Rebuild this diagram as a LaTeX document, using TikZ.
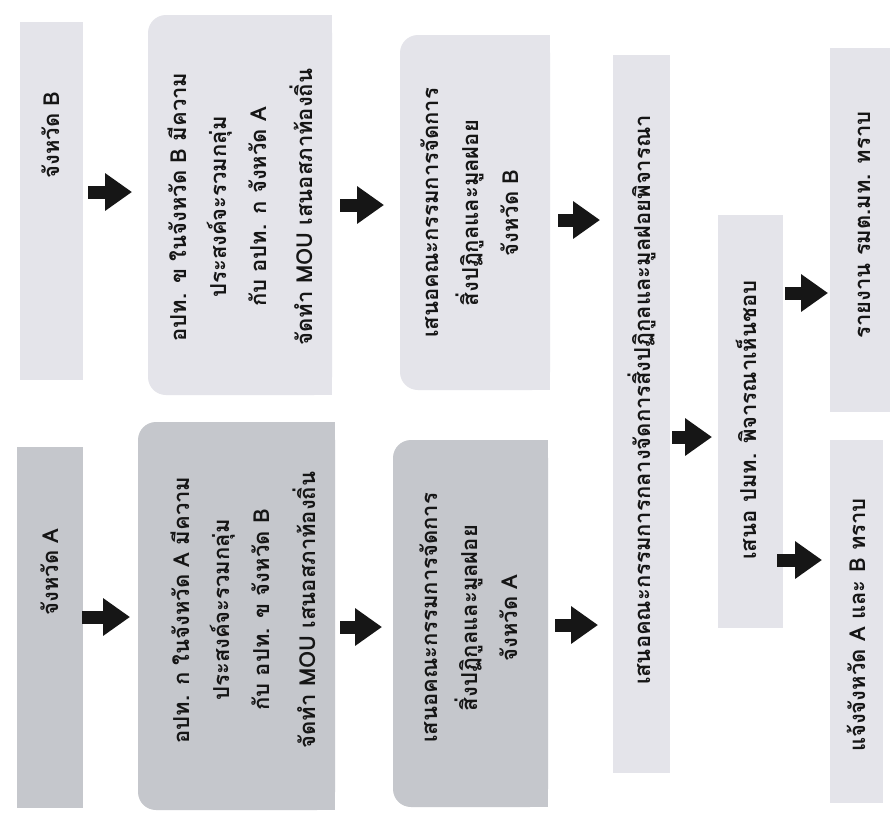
\documentclass[tikz,border=0pt]{standalone}
\usepackage{fontspec}
\usepackage{graphicx}
\newfontfamily\thaifont[Script=Thai]{Loma}
\usetikzlibrary{arrows.meta}
\definecolor{boxdark}{HTML}{C5C7CC}
\definecolor{boxlight}{HTML}{E4E4EA}
\definecolor{ink}{HTML}{161616}
\newcommand{\rtext}[1]{\rotatebox{90}{\begin{tabular}{@{}c@{}}#1\end{tabular}}}
\begin{document}
\begin{tikzpicture}[x=1pt,y=-1pt,
  box/.style={draw=none, inner sep=0pt, outer sep=0pt, anchor=north west},
  darkbox/.style={box, fill=boxdark},
  lightbox/.style={box, fill=boxlight},
  framebox/.style={box},
  txt/.style={inner sep=0pt, outer sep=0pt, font=\thaifont\bfseries\fontsize{22}{40}\selectfont, text=ink},
  flow/.style={draw=ink, line width=13pt, -{Triangle[width=36pt,length=27pt]}}]
\useasboundingbox (0,0) rectangle (890,820);
\fill[white] (0,0) rectangle (890,820);

% boxes
\node[darkbox, minimum width=66pt, minimum height=361pt] (bA) at (17,447) {};
\node[lightbox, minimum width=63pt, minimum height=358pt] (bB) at (20,22) {};
\node[framebox, minimum width=197pt, minimum height=388pt] (b2A) at (138,422) {};
\node[framebox, minimum width=184pt, minimum height=380pt] (b2B) at (148,15) {};
\node[framebox, minimum width=155pt, minimum height=367pt] (b3A) at (393,440) {};
\node[framebox, minimum width=150pt, minimum height=355pt] (b3B) at (400,35) {};
\node[lightbox, minimum width=57pt, minimum height=718pt] (b4) at (613,55) {};
\node[lightbox, minimum width=65pt, minimum height=413pt] (b5) at (718,215) {};
\node[lightbox, minimum width=60pt, minimum height=364pt] (b6) at (830,48) {};
\node[lightbox, minimum width=53pt, minimum height=363pt] (b7) at (830,440) {};

% boxes rounded on the left side
\foreach \b/\c in {b2A/boxdark, b2B/boxlight, b3A/boxdark, b3B/boxlight}{
  \fill[\c, rounded corners=18pt] (\b.north west) rectangle (\b.south east);
  \fill[\c] ([xshift=30pt]\b.north west) rectangle (\b.south east);
}

% texts
\node[txt] (tA) at (50,572) {\rtext{จังหวัด A}};
\node[txt] (tB) at (51,135) {\rtext{จังหวัด B}};
\node[txt] (t2A) at (244,610) {\rtext{อปท. ก ในจังหวัด A มีความ\\ ประสงค์จะรวมกลุ่ม\\ กับ อปท. ข จังหวัด B\\[6pt] จัดทำ MOU เสนอสภาท้องถิ่น}};
\node[txt] (t2B) at (241,207) {\rtext{อปท. ข ในจังหวัด B มีความ\\ ประสงค์จะรวมกลุ่ม\\ กับ อปท. ก จังหวัด A\\[6pt] จัดทำ MOU เสนอสภาท้องถิ่น}};
\node[txt] (t3A) at (469,618) {\rtext{เสนอคณะกรรมการจัดการ\\ สิ่งปฏิกูลและมูลฝอย\\ จังหวัด A}};
\node[txt] (t3B) at (470,213) {\rtext{เสนอคณะกรรมการจัดการ\\ สิ่งปฏิกูลและมูลฝอย\\ จังหวัด B}};
\node[txt] (t4) at (642,400) {\rtext{เสนอคณะกรรมการกลางจัดการสิ่งปฏิกูลและมูลฝอยพิจารณา}};
\node[txt] (t5) at (748,420) {\rtext{เสนอ ปมท. พิจารณาเห็นชอบ}};
\node[txt] (t6) at (862,225) {\rtext{รายงาน รมต.มท. ทราบ}};
\node[txt] (t7) at (857,625) {\rtext{แจ้งจังหวัด A และ B ทราบ}};

% arrows
\draw[flow, shorten <=-1pt, shorten >=8pt] (bA.east |- 0,617) -- (b2A.west |- 0,617);
\draw[flow, shorten <=5pt, shorten >=16pt] (bB.east |- 0,192) -- (b2B.west |- 0,192);
\draw[flow, shorten <=5pt, shorten >=11pt] (b2A.east |- 0,627) -- (b3A.west |- 0,627);
\draw[flow, shorten <=8pt, shorten >=16pt] (b2B.east |- 0,205) -- (b3B.west |- 0,205);
\draw[flow, shorten <=7pt, shorten >=15pt] (b3A.east |- 0,625) -- (b4.west |- 0,625);
\draw[flow, shorten <=8pt, shorten >=13pt] (b3B.east |- 0,220) -- (b4.west |- 0,220);
\draw[flow, shorten <=2pt, shorten >=6pt] (b4.east |- 0,437) -- (b5.west |- 0,437);
\draw[flow, shorten <=2pt, shorten >=2pt] (b5.east |- 0,293) -- (b6.west |- 0,293);
\draw[flow, shorten <=-6pt, shorten >=8pt] (b5.east |- 0,560) -- (b7.west |- 0,560);
\end{tikzpicture}
\end{document}
